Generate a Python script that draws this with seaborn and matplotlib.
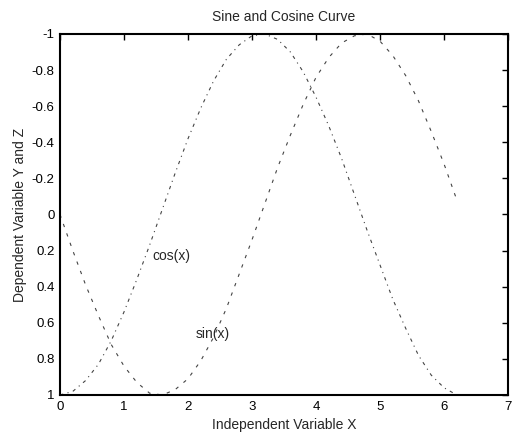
import matplotlib
matplotlib.use("Agg")
import matplotlib.pyplot as plt
import seaborn as sns
import pandas as pd

# Sample points of the independent variable
x_vals = [0.0, 0.2, 0.4, 0.6, 0.8, 1.0, 1.2, 1.4, 1.6, 1.8, 2.0, 2.2, 2.4, 2.6, 2.8, 3.0,
          3.2, 3.4, 3.6, 3.8, 4.0, 4.2, 4.4, 4.6, 4.8, 5.0, 5.2, 5.4, 5.6, 5.8, 6.0, 6.2]
# Dependent variable Y = sin(x)
sin_vals = [0.00, 0.20, 0.39, 0.56, 0.72, 0.84, 0.93, 0.99, 1.00, 0.97, 0.91, 0.81, 0.68, 0.52, 0.33, 0.14,
            -0.06, -0.26, -0.44, -0.61, -0.76, -0.87, -0.95, -0.99, -1.00, -0.96, -0.88, -0.77, -0.63, -0.46, -0.28, -0.08]
# Dependent variable Z = cos(x)
cos_vals = [1.00, 0.98, 0.92, 0.83, 0.70, 0.54, 0.36, 0.17, -0.03, -0.23, -0.42, -0.59, -0.74, -0.86, -0.94, -0.99,
            -1.00, -0.97, -0.90, -0.79, -0.65, -0.49, -0.31, -0.11, 0.09, 0.28, 0.47, 0.63, 0.78, 0.89, 0.96, 1.00]

x_ticks = [0, 1, 2, 3, 4, 5, 6, 7]
y_ticks = [-1, -0.8, -0.6, -0.4, -0.2, 0, 0.2, 0.4, 0.6, 0.8, 1]
y_tick_labels = ["-1", "-0.8", "-0.6", "-0.4", "-0.2", "0", "0.2", "0.4", "0.6", "0.8", "1"]

sns.set_style("white")
plt.rcParams["font.family"] = ["Liberation Sans", "DejaVu Sans"]
plt.rcParams["axes.unicode_minus"] = False

df_sin = pd.DataFrame({"x": x_vals, "y": sin_vals})
df_cos = pd.DataFrame({"x": x_vals, "y": cos_vals})

fig = plt.figure(figsize=(5.15, 4.38), dpi=100)
ax = fig.add_axes([0.1165, 0.0982, 0.870, 0.8242])

sns.lineplot(data=df_sin, x="x", y="y", ax=ax, color="#444444", linewidth=0.8,
             linestyle=(0, (3, 6)), sort=False)
sns.lineplot(data=df_cos, x="x", y="y", ax=ax, color="#444444", linewidth=0.8,
             linestyle=(0, (3, 4, 1, 4)), sort=False)

ax.set_xlim(0, 7)
ax.set_ylim(1, -1)  # reversed vertical axis
ax.set_xticks(x_ticks)
ax.set_xticklabels([str(t) for t in x_ticks])
ax.set_yticks(y_ticks)
ax.set_yticklabels(y_tick_labels)

ax.tick_params(direction="in", length=4, width=1, top=True, right=True,
               labelsize=9.5, colors="black", pad=4)
for s in ax.spines.values():
    s.set_visible(True)
    s.set_color("black")
    s.set_linewidth(1.5)

ax.text(1.45, 0.23, "cos(x)", fontsize=10, va="center", ha="left")
ax.text(2.12, 0.66, "sin(x)", fontsize=10, va="center", ha="left")

ax.set_title("Sine and Cosine Curve", fontsize=10, pad=9)
ax.set_xlabel("Independent Variable X", fontsize=10, labelpad=4)
ax.set_ylabel("Dependent Variable Y and Z", fontsize=10, labelpad=3)

fig.savefig("out.png", dpi=100)
